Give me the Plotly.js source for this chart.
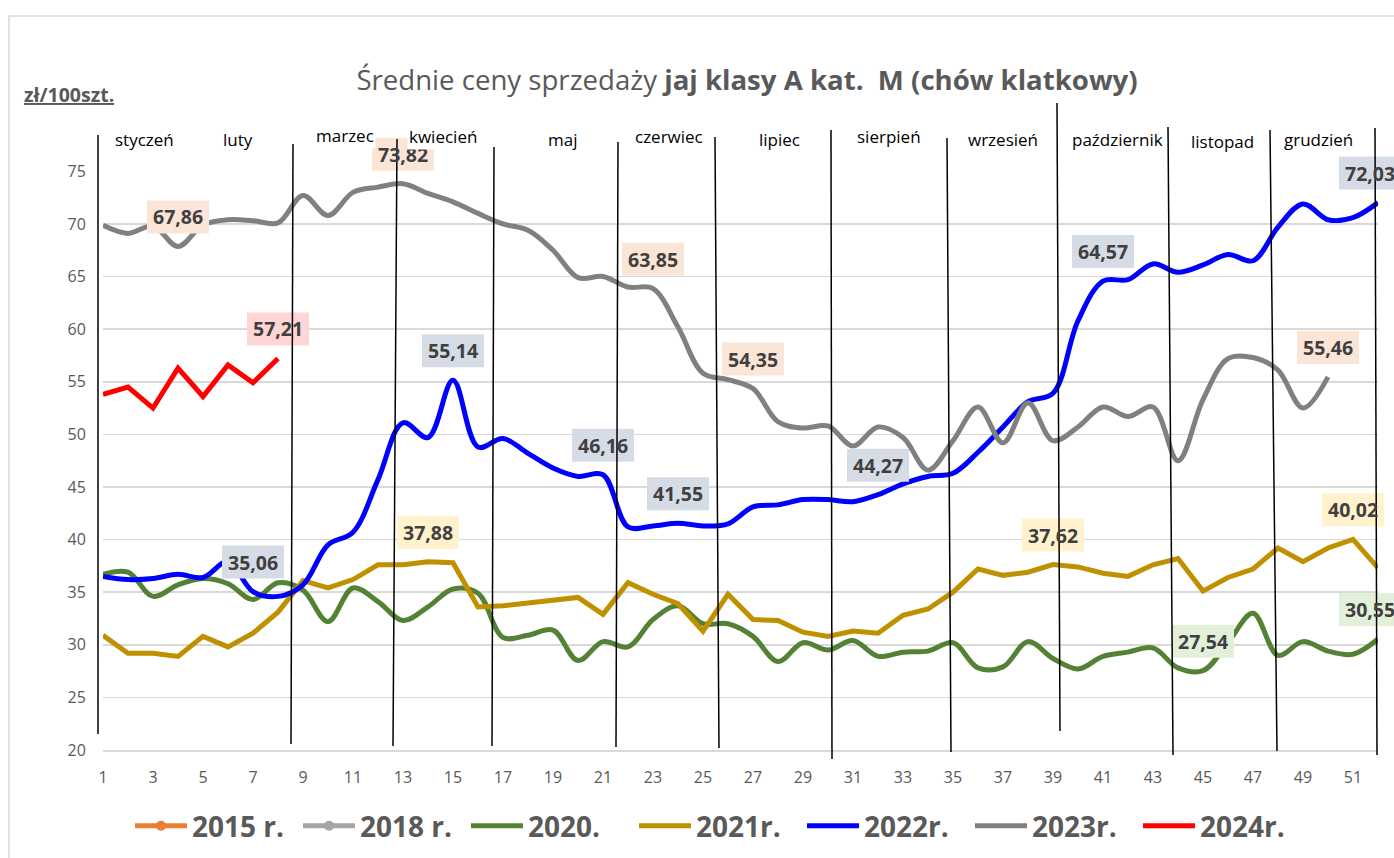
<!DOCTYPE html>
<html><head><meta charset="utf-8">
<script src="https://cdn.plot.ly/plotly-3.0.1.min.js"></script>
<style>html,body{margin:0;padding:0;background:#fff;}#chart{width:1394px;height:858px;}</style>
</head><body><div id="chart"></div>
<script>
// ---------- DATA ----------
const weeks = [1,2,3,4,5,6,7,8,9,10,11,12,13,14,15,16,17,18,19,20,21,22,23,24,25,26,
  27,28,29,30,31,32,33,34,35,36,37,38,39,40,41,42,43,44,45,46,47,48,49,50,51,52];
const xTickLabels = [1,3,5,7,9,11,13,15,17,19,21,23,25,27,29,31,33,35,37,39,41,43,45,47,49,51];
const yTickValues = [20,25,30,35,40,45,50,55,60,65,70,75];
const months = ['styczeń','luty','marzec','kwiecień','maj','czerwiec','lipiec','sierpień',
  'wrzesień','październik','listopad','grudzień'];
const seriesNames = ['2015 r.','2018 r.','2020.','2021r.','2022r.','2023r.','2024r.'];

const s2015 = [null];
const s2018 = [null];
const s2020 = [36.7,36.9,34.6,35.7,36.3,35.8,34.3,35.9,35.2,32.2,35.4,34.1,32.3,33.6,35.3,34.9,
  30.7,30.9,31.4,28.5,30.3,29.8,32.4,33.7,32.0,32.0,30.8,28.4,30.2,29.5,30.4,28.9,29.3,29.4,
  30.2,27.8,27.9,30.3,28.7,27.7,28.9,29.3,29.7,27.8,27.54,30.2,33.0,29.0,30.3,29.4,29.1,30.55];
const s2021 = [30.9,29.2,29.2,28.9,30.8,29.8,31.1,33.1,36.1,35.4,36.2,37.6,37.6,37.88,37.8,33.6,
  33.7,34.0,34.3,34.5,32.9,35.9,34.8,33.9,31.3,34.8,32.4,32.3,31.2,30.8,31.3,31.1,32.8,33.4,
  35.0,37.2,36.6,36.9,37.62,37.4,36.8,36.5,37.6,38.2,35.1,36.4,37.2,39.2,37.9,39.2,40.02,37.3];
const s2022 = [36.5,36.2,36.3,36.7,36.4,37.9,35.06,34.6,35.7,39.5,40.7,45.7,51.1,49.7,55.14,48.8,
  49.6,48.2,46.8,46.0,46.16,41.2,41.3,41.55,41.3,41.5,43.1,43.3,43.8,43.8,43.6,44.27,45.3,46.0,
  46.3,48.3,50.7,53.1,53.9,60.8,64.57,64.7,66.2,65.4,66.1,67.1,66.5,69.7,71.9,70.4,70.6,72.03];
const s2023 = [69.87,69.1,69.8,67.86,69.9,70.4,70.3,70.1,72.7,70.8,73.0,73.5,73.82,72.9,72.1,71.0,
  70.0,69.4,67.5,64.9,65.0,64.0,63.85,60.2,55.8,55.2,54.35,51.2,50.6,50.8,48.9,50.7,49.7,46.6,
  49.4,52.6,49.2,53.0,49.4,50.7,52.6,51.7,52.6,47.5,53.3,57.2,57.3,56.1,52.5,55.46];
const s2024 = [53.8,54.5,52.5,56.3,53.6,56.6,54.9,57.21];

// weeks that carry a data label
const lab2020 = [45,52];
const lab2021 = [14,39,51];
const lab2022 = [7,15,21,24,32,41,52];
const lab2023 = [4,13,23,27,50];
const lab2024 = [8];

// ---------- LAYOUT HELPERS ----------
const PL=103, PR=1378, PT=171, PB=750;
const XR = [1,52], YR = [20,75.03];
const px = v => (v-PL)/(PR-PL);
const py = v => (PB-v)/(PB-PT);
const dx = w => (w-XR[0])/(XR[1]-XR[0]);   // data -> paper (for unclipped shapes)
const dy = v => (v-YR[0])/(YR[1]-YR[0]);

const FONT = 'Open Sans, Lato, sans-serif';
const TXT = '#595959';

function tr(name, y, color, shape, marker){
  const t = {x: weeks.slice(0, y.length), y: y, name: name, type:'scatter',
    mode: marker ? 'lines+markers' : 'lines',
    line:{color: color, width: 5, shape: shape, smoothing: 1}, hoverinfo:'skip'};
  if(marker) t.marker = {color: color, size: 10};
  return t;
}
const traces = [
  tr(seriesNames[0], s2015, '#ED7D31', 'linear', true),
  tr(seriesNames[1], s2018, '#A5A5A5', 'linear', true),
  tr(seriesNames[2], s2020, '#548235', 'spline'),
  tr(seriesNames[3], s2021, '#BF9000', 'linear'),
  tr(seriesNames[4], s2022, '#0000FF', 'spline'),
  tr(seriesNames[5], s2023, '#808080', 'spline'),
  tr(seriesNames[6], s2024, '#FF0000', 'linear')
];

const shapes = [];
const annotations = [];

// data-label boxes (paper-anchored pixel shapes, not clipped) + text
function labels(series, wk, bg){
  wk.forEach(w => {
    const v = series[w-1];
    const xs = (w === 52) ? -8 : 0;
    shapes.push({type:'rect', layer:'above', xref:'paper', yref:'paper',
      xsizemode:'pixel', ysizemode:'pixel', xanchor:dx(w), yanchor:dy(v),
      x0:-31+xs, x1:31+xs, y0:13, y1:46, fillcolor:bg, line:{width:0}});
    annotations.push({x:w, y:v, xref:'x', yref:'y', showarrow:false, yshift:29.5, xshift:xs,
      xanchor:'center', yanchor:'middle',
      text:'<b>'+v.toFixed(2).replace('.',',')+'</b>',
      font:{family:FONT, size:19.5, color:'#404040'}});
  });
}
labels(s2023, lab2023, '#FBE5D6');
labels(s2022, lab2022, '#D6DCE5');
labels(s2021, lab2021, '#FFF2CC');
labels(s2020, lab2020, '#E2F0D9');
labels(s2024, lab2024, '#FFD5D5');

// month separator lines: [x top, x bottom, y top, y bottom] in px
const sepLines = [[98,98,135,734],[293,291,144,744],[397,393,139,746],[494,492,147,746],
  [618,616,142,747],[715,719,137,748],[831,832,130,759],[947,951,138,752],[1057,1060,103,731],
  [1168,1173,127,755],[1270,1277,130,751],[1375,1377,128,755]];
sepLines.forEach(l => shapes.push({type:'line', layer:'above', xref:'paper', yref:'paper',
  x0:px(l[0]), x1:px(l[1]), y0:py(l[2]), y1:py(l[3]), line:{color:'#000', width:1.5}}));

// chart-area border
shapes.push({type:'rect', layer:'below', xref:'paper', yref:'paper',
  x0:px(9), x1:px(1420), y0:py(16), y1:py(900), line:{color:'#D9D9D9', width:1.5}, fillcolor:'rgba(0,0,0,0)'});

// month labels
const monthPos = [[144,139],[238,140],[345,135],[443,136],[562,140],[669,137],[779,139],
  [889,137],[1003,139],[1117,139],[1222,142],[1318,140]];
months.forEach((m,i) => annotations.push({xref:'paper', yref:'paper', x:px(monthPos[i][0]),
  y:py(monthPos[i][1]), xanchor:'center', yanchor:'middle', text:m, showarrow:false,
  bgcolor:'#fff', borderpad:1, font:{family:FONT, size:17, color:'#000'}}));

// unit label
annotations.push({xref:'paper', yref:'paper', x:px(22), y:py(95), xanchor:'left', yanchor:'middle',
  showarrow:false, text:'<u><b>zł/100szt.</b></u>', font:{family:FONT, size:19.5, color:TXT}});

const layout = {
  width:1394, height:858,
  margin:{l:PL, r:1394-PR, t:PT, b:858-PB, pad:0, autoexpand:false},
  paper_bgcolor:'#fff', plot_bgcolor:'#fff',
  title:{text:'Średnie ceny sprzedaży <b>jaj klasy A kat.\u00A0 M (chów klatkowy)</b>',
    font:{family:FONT, size:27.6, color:TXT}, xref:'paper', x:px(747), xanchor:'center',
    yref:'container', y:1-80/858, yanchor:'middle'},
  xaxis:{range:XR, tickmode:'array', tickvals:xTickLabels, ticktext:xTickLabels.map(String),
    showgrid:false, zeroline:false, showline:true, linecolor:'#D9D9D9', linewidth:1.5,
    ticks:'outside', ticklen:12, tickcolor:'rgba(0,0,0,0)', automargin:false,
    tickfont:{family:FONT, size:16, color:TXT}},
  yaxis:{range:YR, tickmode:'array', tickvals:yTickValues, ticktext:yTickValues.map(String),
    showgrid:true, gridcolor:'#D9D9D9', gridwidth:1.5, zeroline:false, showline:false,
    ticks:'outside', ticklen:13, tickcolor:'rgba(0,0,0,0)', automargin:false,
    tickfont:{family:FONT, size:16, color:TXT}},
  showlegend:true,
  legend:{orientation:'h', xref:'paper', x:px(130), xanchor:'left',
    yref:'container', y:1-826/858, yanchor:'middle',
    font:{family:FONT, size:28, color:TXT, weight:'bold'}, entrywidth:101, entrywidthmode:'pixels',
    itemwidth:52, traceorder:'normal'},
  shapes:shapes, annotations:annotations
};

Plotly.newPlot('chart', traces, layout, {staticPlot:true, displayModeBar:false});
</script></body></html>
